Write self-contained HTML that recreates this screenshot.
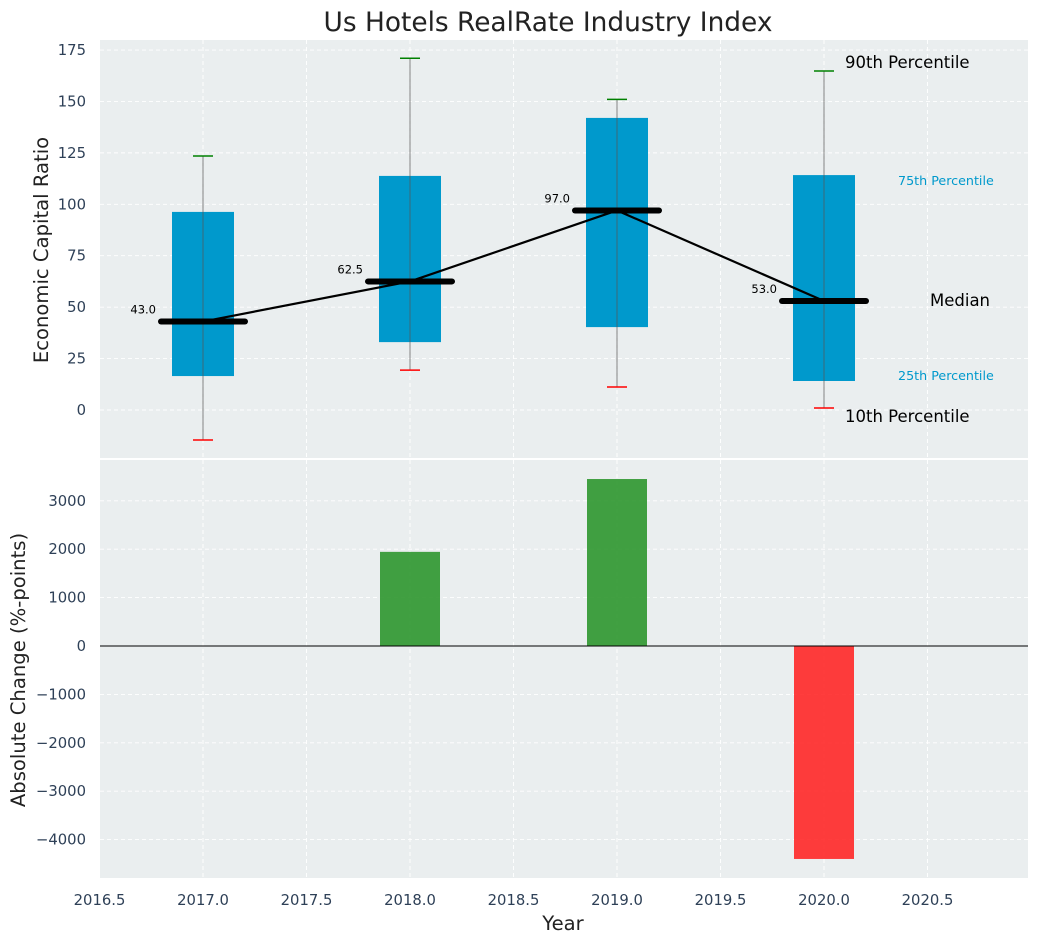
<!DOCTYPE html>
<html><head><meta charset="utf-8"><style>
body{margin:0;background:#fff;font-family:"Liberation Sans","DejaVu Sans",sans-serif;}
svg text{font-family:"DejaVu Sans","Liberation Sans",sans-serif;}
</style></head><body>
<svg id="c" width="1039" height="942"></svg>
<script>
const years=[2017,2018,2019,2020];
const p10=[-14.6,19.4,11.2,1];
const p25=[16.5,33,40.3,14.1];
const p75=[96.3,113.8,142,114.2];
const p90=[123.5,171,151,164.8];
const medians=[43.0,62.5,97.0,53.0];
const changes=[0,1945,3450,-4400];
const xTicks=[2016.5,2017.0,2017.5,2018.0,2018.5,2019.0,2019.5,2020.0,2020.5];
const yTopTicks=[0,25,50,75,100,125,150,175];
const yBotTicks=[-4000,-3000,-2000,-1000,0,1000,2000,3000];

const NS="http://www.w3.org/2000/svg",svg=document.getElementById('c');
function el(t,a,p){const e=document.createElementNS(NS,t);for(const k in a)e.setAttribute(k,a[k]);(p||svg).appendChild(e);return e;}
const L=100,R=1028,T1=40,B1=458,T2=460,B2=878;
const x=v=>99.5+(v-2016.5)*207;
const y1=v=>410-v*2.057;
const y2=v=>646-v*0.0484;
let e;
e=el('rect',{x:L,y:T1,width:R-L,height:B1-T1,fill:'#eaeeef'});

e=el('rect',{x:L,y:T2,width:R-L,height:B2-T2,fill:'#eaeeef'});

const g={stroke:'#fff','stroke-dasharray':'4,3','stroke-width':0.9};
xTicks.forEach(v=>{el('line',Object.assign({x1:x(v),x2:x(v),y1:T1,y2:B1},g));el('line',Object.assign({x1:x(v),x2:x(v),y1:T2,y2:B2},g));
 e=el('text',{x:x(v),y:905,'text-anchor':'middle','font-size':14.8,fill:'#2e4057'});e.textContent=v.toFixed(1);
 });
yTopTicks.forEach(v=>{el('line',Object.assign({x1:L,x2:R,y1:y1(v),y2:y1(v)},g));
 e=el('text',{x:86,y:y1(v)+5,'text-anchor':'end','font-size':14.8,fill:'#2e4057'});e.textContent=v;
 });
yBotTicks.forEach(v=>{el('line',Object.assign({x1:L,x2:R,y1:y2(v),y2:y2(v)},g));
 e=el('text',{x:86,y:y2(v)+5,'text-anchor':'end','font-size':14.8,fill:'#2e4057'});e.textContent=v<0?'\u2212'+(-v):v;
 });
years.forEach((yr,i)=>{
 const cx=x(yr);
 e=el('rect',{x:cx-31,y:y1(p75[i]),width:62,height:y1(p25[i])-y1(p75[i]),fill:'#0099cc'});
 
 e=el('line',{x1:cx,x2:cx,y1:y1(p90[i]),y2:y1(p10[i]),stroke:'#555','stroke-width':1,opacity:0.7});
 
 e=el('line',{x1:cx-10,x2:cx+10,y1:y1(p90[i]),y2:y1(p90[i]),stroke:'green','stroke-width':1.5});
 
 e=el('line',{x1:cx-10,x2:cx+10,y1:y1(p10[i]),y2:y1(p10[i]),stroke:'red','stroke-width':1.5});
 
});
e=el('polyline',{points:years.map((yr,i)=>x(yr)+','+y1(medians[i])).join(' '),fill:'none',stroke:'#000','stroke-width':2.2});

years.forEach((yr,i)=>{const cx=x(yr);
 e=el('line',{x1:cx-42,x2:cx+42,y1:y1(medians[i]),y2:y1(medians[i]),stroke:'#000','stroke-width':6,'stroke-linecap':'round'});
 
 e=el('text',{x:cx-47,y:y1(medians[i])-8,'text-anchor':'end','font-size':11.5,fill:'#000'});e.textContent=medians[i].toFixed(1);
 
});
[['90th Percentile',845,68,16.5,'#000'],['75th Percentile',898,185,12.7,'#0099cc'],['Median',930,306,16.5,'#000'],['25th Percentile',898,380,12.7,'#0099cc'],['10th Percentile',845,422,16.5,'#000']].forEach(a=>{
 e=el('text',{x:a[1],y:a[2],'font-size':a[3],fill:a[4]});e.textContent=a[0];
 });
years.forEach((yr,i)=>{if(!changes[i])return;const v=changes[i];
 e=el('rect',{x:x(yr)-30,y:Math.min(y2(0),y2(v)),width:60,height:Math.abs(y2(v)-y2(0)),fill:v>0?'#2e962e':'#ff2222',opacity:v>0?0.9:0.88});
 });
e=el('line',{x1:L,x2:R,y1:y2(0),y2:y2(0),stroke:'#000','stroke-width':1});

e=el('text',{x:548,y:31,'text-anchor':'middle','font-size':26.4,fill:'#222'});e.textContent='Us Hotels RealRate Industry Index';

e=el('text',{x:563,y:930,'text-anchor':'middle','font-size':19.6,fill:'#222'});e.textContent='Year';

e=el('text',{x:0,y:0,'text-anchor':'middle','font-size':19.6,fill:'#222',transform:'translate(48,250) rotate(-90)'});e.textContent='Economic Capital Ratio';

e=el('text',{x:0,y:0,'text-anchor':'middle','font-size':19.6,fill:'#222',transform:'translate(25,670) rotate(-90)'});e.textContent='Absolute Change (%-points)';

</script>
</body></html>
